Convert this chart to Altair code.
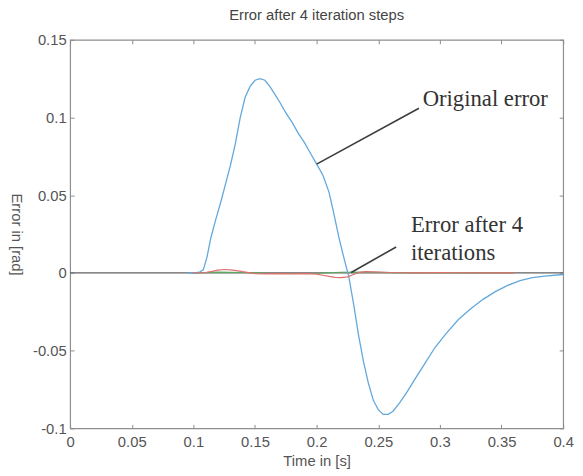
import altair as alt
import pandas as pd

# ---------------- data ----------------
t_orig = [0.095, 0.1, 0.105, 0.108, 0.111, 0.114, 0.118, 0.122, 0.126, 0.13, 0.134, 0.138,
          0.142, 0.146, 0.15, 0.154, 0.158, 0.162, 0.166, 0.17, 0.175, 0.18, 0.185, 0.19,
          0.195, 0.2, 0.205, 0.21, 0.214, 0.218, 0.222, 0.226, 0.23, 0.234, 0.238, 0.242,
          0.246, 0.25, 0.254, 0.258, 0.262, 0.267, 0.273, 0.28, 0.288, 0.296, 0.305, 0.315,
          0.325, 0.335, 0.345, 0.355, 0.365, 0.375, 0.385, 0.4]
e_orig = [0.0, 0.0, 0.0005, 0.002, 0.01, 0.022, 0.034, 0.045, 0.057, 0.069, 0.083, 0.1,
          0.113, 0.12, 0.124, 0.125, 0.124, 0.12, 0.115, 0.11, 0.103, 0.097, 0.09, 0.084,
          0.077, 0.07, 0.063, 0.052, 0.038, 0.023, 0.01, -0.002, -0.02, -0.04, -0.057, -0.071,
          -0.082, -0.088, -0.091, -0.091, -0.089, -0.084, -0.077, -0.068, -0.058, -0.048, -0.039, -0.03,
          -0.023, -0.017, -0.012, -0.008, -0.005, -0.003, -0.002, -0.001]

t_iter = [0.1, 0.11, 0.115, 0.12, 0.125, 0.13, 0.135, 0.14, 0.145, 0.15, 0.16, 0.17, 0.18,
          0.19, 0.2, 0.205, 0.21, 0.215, 0.22, 0.225, 0.23, 0.235, 0.24, 0.25, 0.26, 0.27,
          0.28, 0.3, 0.32, 0.34, 0.36]
e_iter = [0.0, 0.0003, 0.001, 0.0018, 0.0022, 0.002, 0.0015, 0.0008, 0.0002, -0.0004, -0.0006,
          -0.0005, -0.0006, -0.0005, -0.0008, -0.0015, -0.0022, -0.0028, -0.003, -0.0025, -0.001,
          0.0004, 0.0008, 0.0006, 0.0003, 0.0001, 0.0, 0.0002, 0.0001, 0.0, 0.0]

t_green = [0.1, 0.12, 0.14, 0.16, 0.18, 0.2, 0.22, 0.24, 0.26, 0.3, 0.36]
e_green = [0.0, 0.0005, 0.0003, -0.0003, -0.0004, -0.0002, 0.0004, 0.0006, 0.0002, 0.0, 0.0]

t_zero = [0.0, 0.4]
e_zero = [0.0, 0.0]

x_ticks = [0, 0.05, 0.1, 0.15, 0.2, 0.25, 0.3, 0.35, 0.4]
y_ticks = [-0.1, -0.05, 0, 0.05, 0.1, 0.15]

ann_text = ["Original error", "Error after 4", "iterations"]
ann_t = [0.286, 0.2765, 0.2765]
ann_v = [0.112, 0.031, 0.013]

arrow_id = ["orig", "orig", "iter", "iter"]
arrow_t = [0.283, 0.2, 0.2645, 0.228]
arrow_v = [0.106, 0.07, 0.0167, 0.0003]

# ---------------- chart ----------------
xs = alt.Scale(domain=[0, 0.4], nice=False, zero=False)
ys = alt.Scale(domain=[-0.1, 0.15], nice=False, zero=False)

FONT = "Liberation Sans"
LBL = dict(labelFont=FONT, labelFontSize=15, labelColor="#555555", grid=False,
           titleFont=FONT, titleFontSize=15, titleFontWeight="normal", titleColor="#555555")

x_main = alt.Axis(orient="bottom", values=x_ticks, domain=False, ticks=False, labelPadding=6,
                  labelExpr="toString(datum.value)", title="Time in [s]", titleY=33,
                  titleBaseline="middle", labelFlush=False, **LBL)
y_main = alt.Axis(orient="left", values=y_ticks, domain=False, ticks=False, labelPadding=4,
                  labelExpr="toString(datum.value)", title="Error in [rad]", titleAngle=90,
                  titleX=-54, titleY=197, titleAlign="center", titleBaseline="middle",
                  labelFlush=False, **LBL)

def tick_axis(orient, vals):
    return alt.Axis(orient=orient, values=vals, offset=-4, labels=False, domain=False,
                    ticks=True, tickSize=4, tickColor="#8a8a8a", title="", grid=False)

df_orig = pd.DataFrame({"t": t_orig, "v": e_orig})
df_iter = pd.DataFrame({"t": t_iter, "v": e_iter})
df_green = pd.DataFrame({"t": t_green, "v": e_green})
df_zero = pd.DataFrame({"t": t_zero, "v": e_zero})
df_ann = pd.DataFrame({"t": ann_t, "v": ann_v, "label": ann_text})
df_arrow = pd.DataFrame({"t": arrow_t, "v": arrow_v, "id": arrow_id})

zero = alt.Chart(df_zero).mark_line(color="#606060", strokeWidth=1.2).encode(
    x=alt.X("t:Q", scale=xs, axis=x_main),
    y=alt.Y("v:Q", scale=ys, axis=y_main),
)
blue = alt.Chart(df_orig).mark_line(color="#62a8dc", strokeWidth=1.3).encode(
    x=alt.X("t:Q", scale=xs, axis=tick_axis("bottom", x_ticks)),
    y=alt.Y("v:Q", scale=ys, axis=tick_axis("left", y_ticks)),
)
green = alt.Chart(df_green).mark_line(color="#5aa860", strokeWidth=1.1).encode(
    x=alt.X("t:Q", scale=xs, axis=tick_axis("top", x_ticks)),
    y=alt.Y("v:Q", scale=ys, axis=tick_axis("right", y_ticks)),
)
red = alt.Chart(df_iter).mark_line(color="#e07070", strokeWidth=1.2).encode(
    x=alt.X("t:Q", scale=xs, axis=None),
    y=alt.Y("v:Q", scale=ys, axis=None),
)
arrows = alt.Chart(df_arrow).mark_line(color="#3c3c3c", strokeWidth=1.6).encode(
    x=alt.X("t:Q", scale=xs, axis=None),
    y=alt.Y("v:Q", scale=ys, axis=None),
    detail="id:N",
)
texts = alt.Chart(df_ann).mark_text(align="left", baseline="middle", font="Liberation Serif",
                                    fontSize=23, color="#333333").encode(
    x=alt.X("t:Q", scale=xs, axis=None),
    y=alt.Y("v:Q", scale=ys, axis=None),
    text="label:N",
)

chart = alt.layer(zero, green, blue, red, arrows, texts).resolve_axis(
    x="independent", y="independent"
).properties(
    width=500, height=394,
    title=alt.TitleParams("Error after 4 iteration steps", font=FONT, fontSize=15,
                          fontWeight="normal", color="#444444", offset=10),
    autosize=alt.AutoSizeParams(type="none"),
    padding={"left": 63, "top": 29, "right": 12, "bottom": 41},
).configure(background="white").configure_view(stroke="#8f8f8f", strokeWidth=1.2)

chart.save("out.html", embed_options={"renderer": "svg", "actions": False})
